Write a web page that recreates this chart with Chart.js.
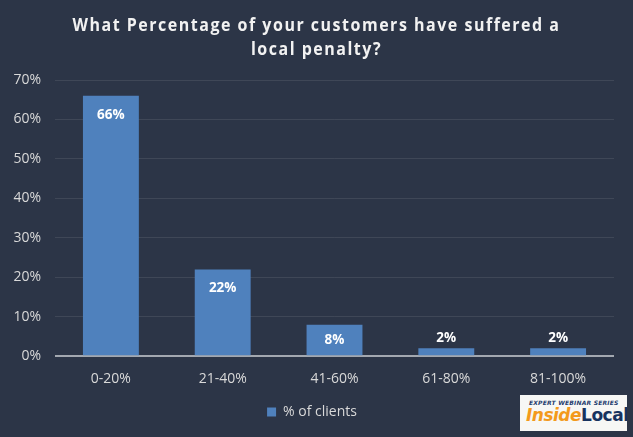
<!DOCTYPE html>
<html>
<head>
<meta charset="utf-8">
<script src="https://cdn.jsdelivr.net/npm/chart.js@4"></script>
<style>
  html, body { margin: 0; padding: 0; background: #2c3547; }
  #wrap { position: relative; width: 633px; height: 437px; }
  #logo {
    position: absolute; left: 520px; top: 395px; width: 107px; height: 36px;
    background: #f7f7f5; font-family: "DejaVu Sans", sans-serif; overflow: hidden;
  }
  #logo .small {
    position: absolute; left: 9px; top: 4px; font-size: 6px; font-weight: bold;
    font-style: italic; color: #1f3c6e; letter-spacing: 0.2px;
  }
  #logo .big {
    position: absolute; left: 6px; top: 10px; font-size: 17px; font-weight: bold;
    letter-spacing: -0.5px; white-space: nowrap;
  }
  #logo .inside { color: #f39a1c; font-style: italic; }
  #logo .local { color: #17325f; }
</style>
</head>
<body>
<div id="wrap">
  <canvas id="chart" width="633" height="437"></canvas>
  <div id="logo">
    <span class="small">EXPERT WEBINAR SERIES</span>
    <span class="big"><span class="inside">Inside</span><span class="local">Local</span></span>
  </div>
</div>
<script>
// data
const categories = ['0-20%', '21-40%', '41-60%', '61-80%', '81-100%'];
const clients = [66, 22, 8, 2, 2];
const yTicks = [0, 10, 20, 30, 40, 50, 60, 70];
const titleLines = ['What Percentage of your customers have suffered a', 'local penalty?'];

const textColor = '#d9d9d9';
const barColor = '#4f81bd';

// titre avec espacement des lettres, un peu resserré horizontalement
const titlePlugin = {
  id: 'spacedTitle',
  afterDraw(chart) {
    const ctx = chart.ctx;
    ctx.save();
    ctx.font = 'bold 17px "Open Sans"';
    ctx.fillStyle = '#f2f2f2';
    ctx.textAlign = 'center';
    ctx.textBaseline = 'alphabetic';
    ctx.letterSpacing = '1.6px';
    const w = ctx.measureText(titleLines[0]).width;
    const sx = Math.min(1, 488 / w);
    ctx.translate(chart.width / 2, 0);
    ctx.scale(sx, 1);
    ctx.fillText(titleLines[0], 0, 31);
    ctx.fillText(titleLines[1], 0, 55);
    ctx.restore();
  }
};

// étiquettes de valeurs sur les barres
const labelPlugin = {
  id: 'barLabels',
  afterDatasetsDraw(chart) {
    const ctx = chart.ctx;
    const meta = chart.getDatasetMeta(0);
    ctx.save();
    ctx.font = 'bold 13.5px "Open Sans"';
    ctx.fillStyle = '#ffffff';
    ctx.textAlign = 'center';
    ctx.textBaseline = 'middle';
    meta.data.forEach((bar, i) => {
      const h = bar.base - bar.y;
      const y = h > 25 ? bar.y + Math.min(19, h / 2) : bar.y - 10;
      ctx.fillText(clients[i] + '%', bar.x, y);
    });
    ctx.restore();
  }
};

new Chart(document.getElementById('chart'), {
  type: 'bar',
  data: {
    labels: categories,
    datasets: [{
      label: '% of clients',
      data: clients,
      backgroundColor: barColor,
      borderWidth: 0,
      categoryPercentage: 1.0,
      barPercentage: 0.5
    }]
  },
  options: {
    responsive: false,
    animation: false,
    layout: { padding: { top: 80, left: 10, right: 19, bottom: 8 } },
    plugins: {
      title: { display: false },
      tooltip: { enabled: false },
      legend: {
        position: 'bottom',
        labels: {
          color: textColor,
          font: { family: 'Open Sans', size: 14 },
          boxWidth: 9,
          boxHeight: 9,
          padding: 12
        }
      }
    },
    scales: {
      y: {
        min: 0,
        max: 70,
        afterBuildTicks: s => { s.ticks = yTicks.map(v => ({ value: v })); },
        afterFit: s => { s.width = 45; },
        ticks: {
          color: textColor,
          font: { family: 'Open Sans', size: 14 },
          padding: 14,
          callback: v => v + '%'
        },
        grid: {
          color: c => c.tick.value === 0 ? '#a3a8b0' : 'rgba(255,255,255,0.09)',
          lineWidth: c => c.tick.value === 0 ? 2 : 1,
          drawTicks: false
        },
        border: { display: false }
      },
      x: {
        ticks: {
          color: textColor,
          font: { family: 'Open Sans', size: 14 },
          padding: 6
        },
        grid: { display: false },
        border: { display: false }
      }
    }
  },
  plugins: [titlePlugin, labelPlugin]
});
</script>
</body>
</html>
